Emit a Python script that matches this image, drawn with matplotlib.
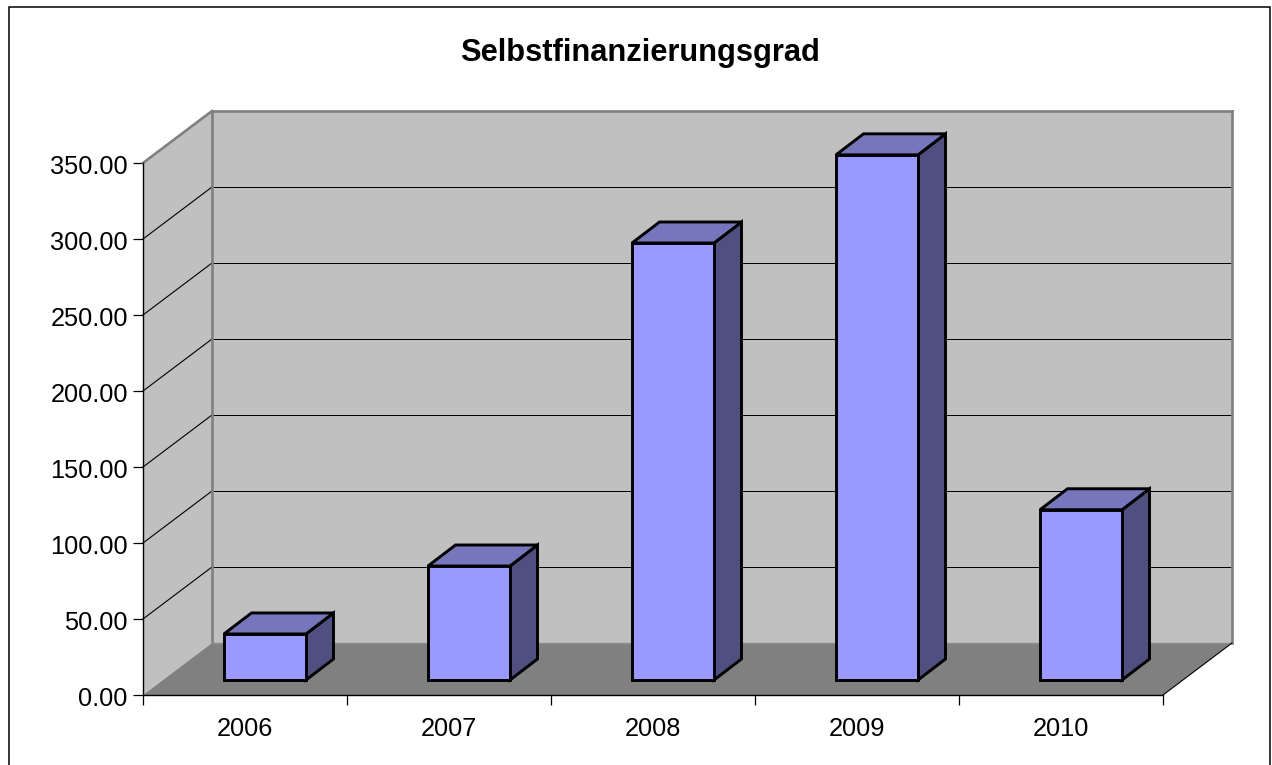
import matplotlib
matplotlib.use("Agg")
import matplotlib.pyplot as plt
from matplotlib.patches import Polygon, Rectangle
from matplotlib.ticker import FixedLocator, NullFormatter
from matplotlib.transforms import ScaledTranslation

categories = ["2006", "2007", "2008", "2009", "2010"]
values = [30.3, 75.0, 287.5, 345.5, 112.0]
y_ticks = [0, 50, 100, 150, 200, 250, 300, 350]
title = "Selbstfinanzierungsgrad"

W, H = 1272, 765
plt.rcParams["font.family"] = ["Liberation Sans", "DejaVu Sans"]
fig = plt.figure(figsize=(W / 100, H / 100), dpi=100, facecolor="white")

# frame around the whole chart
fig.add_artist(Rectangle((9 / W, -0.02), (1270 - 9) / W, (H - 7) / H + 0.02,
                         transform=fig.transFigure, fill=False,
                         edgecolor="#000000", linewidth=1.1))

# front plane of the 3D box, in pixels
L, R, B, T = 143, 1163, 695, 163
ax = fig.add_axes([L / W, 1 - B / H, (R - L) / W, (B - T) / H])
ax.set_xlim(0, len(categories))
ax.set_ylim(0, 350)
ax.patch.set_visible(False)

px_x = len(categories) / (R - L)
px_y = 350 / (B - T)
DX, DY = 69 * px_x, 52 * px_y        # depth of the box
BX, BY = 27.5 * px_x, 21 * px_y      # depth of a bar
OX, OY = 20 * px_x, 15 * px_y        # bar offset from the front plane
BAR_W = 82 * px_x
n = len(categories)
top = y_ticks[-1]

WALL = "#C0C0C0"
FLOOR = "#808080"
EDGE = "#808080"


def poly(pts, fc, ec="none", lw=0, z=1):
    ax.add_patch(Polygon(pts, closed=True, facecolor=fc, edgecolor=ec, linewidth=lw,
                         joinstyle="miter", clip_on=False, zorder=z))


# walls and floor
poly([(DX, DY), (n + DX, DY), (n + DX, top + DY), (DX, top + DY)], WALL, z=1)
poly([(0, 0), (DX, DY), (DX, top + DY), (0, top)], WALL, z=1)
poly([(0, 0), (n, 0), (n + DX, DY), (DX, DY)], FLOOR, z=1)

# gridlines
for v in y_ticks[1:-1]:
    ax.plot([0, DX], [v, v + DY], color="#000000", lw=0.8,
            clip_on=False, zorder=2)
    ax.plot([DX, n + DX], [v + DY, v + DY], color="#000000", lw=0.72,
            clip_on=False, zorder=2, snap=True)

# wall edges
ax.plot([0, DX], [top, top + DY], color=EDGE, lw=1.9, clip_on=False, zorder=2)
ax.plot([DX, n + DX], [top + DY, top + DY], color=EDGE, lw=1.9, clip_on=False, zorder=2, snap=True)
ax.plot([n + DX, n + DX], [top + DY, DY], color=EDGE, lw=1.9, clip_on=False, zorder=2, snap=True)
ax.plot([DX, DX], [DY, top + DY], color=EDGE, lw=1.9, clip_on=False, zorder=2, snap=True)
ax.plot([DX, n + DX], [DY, DY], color="#8C8C8C", lw=1.0, clip_on=False, zorder=2, snap=True)
ax.plot([n, n + DX], [0, DY], color="#000000", lw=0.8, clip_on=False, zorder=2)

# bars
for i, v in enumerate(values):
    x0 = i + 0.5 + OX - BAR_W / 2
    x1 = x0 + BAR_W
    y0, y1 = OY, OY + v
    kw = dict(ec="#000000", lw=2.1, z=4)
    poly([(x1, y0), (x1 + BX, y0 + BY), (x1 + BX, y1 + BY), (x1, y1)], "#4F4F80", **kw)
    poly([(x0, y1), (x1, y1), (x1 + BX, y1 + BY), (x0 + BX, y1 + BY)], "#7676BC", **kw)
    poly([(x0, y0), (x1, y0), (x1, y1), (x0, y1)], "#9999FF", **kw)

# axes
for s in ("top", "right"):
    ax.spines[s].set_visible(False)
for s in ("left", "bottom"):
    ax.spines[s].set_linewidth(1.0)
    ax.spines[s].set_color("#000000")
    ax.spines[s].set_zorder(3)
ax.set_yticks(y_ticks)
ax.set_yticklabels([f"{v:.2f}" for v in y_ticks])
ax.set_xticks(range(n + 1))
ax.xaxis.set_major_formatter(NullFormatter())
ax.xaxis.set_minor_locator(FixedLocator([i + 0.5 for i in range(n)]))
ax.set_xticklabels(categories, minor=True)
ax.tick_params(axis="y", which="major", length=7.2, width=0.9, pad=3.7, labelsize=18.3, labelcolor="#000000")
ax.tick_params(axis="x", which="major", length=7, width=0.9)
ax.tick_params(axis="x", which="minor", length=0, pad=15.5, labelsize=18.3)

# nudge the y labels slightly down
shift = ScaledTranslation(0, -2.0 / 100, fig.dpi_scale_trans)
for lab in ax.get_yticklabels():
    lab.set_transform(lab.get_transform() + shift)

fig.text(640 / W, 1 - 53 / H, title, ha="center", va="center",
         fontsize=22.2, fontweight="bold", color="#000000")

fig.savefig("out.png", dpi=100, facecolor="white")
